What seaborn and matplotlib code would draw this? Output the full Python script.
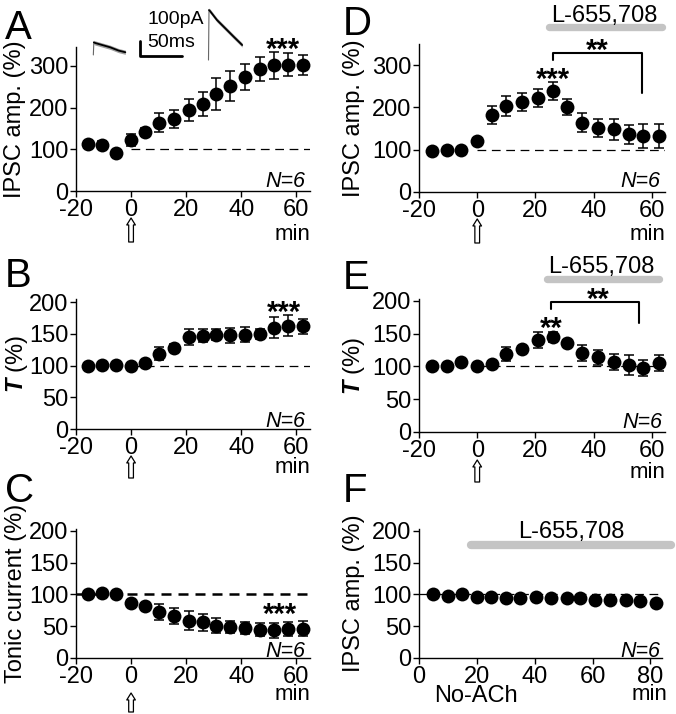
import numpy as np
import pandas as pd
import matplotlib.pyplot as plt
import seaborn as sns
from matplotlib.transforms import ScaledTranslation

# Dados (médias e erros, %)
t_min = [-15.5, -10.5, -5.5, 0, 5, 10, 15.5, 21, 26, 31, 36, 41.5, 47, 52, 57, 62.5]
t_noach = [5, 10, 15, 20, 25, 30, 35, 40.5, 45.5, 51, 55.5, 61, 66, 71.5, 76.5, 82]

ipsc_a = [112, 111, 90, 122, 141, 164, 172, 194, 208, 232, 252, 274, 292, 301, 303, 301]
err_a = [8, 8, 6, 15, 10, 23, 22, 27, 28, 38, 36, 31, 28, 32, 27, 24]

tau_b = [100, 101.5, 100.5, 100, 104, 119, 128, 145, 147, 149, 147.5, 149, 150, 160, 163, 162]
err_b = [3, 3, 3, 3, 4, 10, 6, 12, 10, 8, 12, 12, 8, 17, 16, 12]

tonic_c = [100, 102.5, 100, 87, 81.5, 72.5, 66, 59, 56, 51, 49, 47, 44.5, 43.5, 45.5, 46]
err_c = [3, 3, 3, 4, 5, 12, 13, 15, 14, 12, 10, 9, 10, 12, 11, 12]

ipsc_d = [97, 100, 100, 121, 182, 203, 212, 223, 239, 201, 164, 152, 148, 136, 132, 132]
err_d = [4, 4, 4, 6, 21, 24, 21, 21, 21, 19, 23, 21, 24, 22, 28, 29]

tau_e = [100, 101, 107, 100, 104.5, 119, 126, 140, 145, 136, 121, 114, 107, 102, 98, 105]
err_e = [3, 3, 3, 3, 4, 10, 6, 12, 8, 5, 12, 11, 12, 15, 12, 12]

ipsc_f = [100, 98, 100, 96, 96, 95, 95, 96, 94, 94.5, 94.5, 91, 91, 91, 90, 87]
err_f = [2, 2, 2, 2, 2, 2, 2, 2, 2, 2, 2, 2, 2, 2, 2, 2]

# traços de IPSC do inset (ms, pA)
tr_ctrl_t = [0, 0.6, 2, 10, 20, 30, 38]
tr_ctrl_i = [0, 84, 80, 67, 51, 29, 18]
tr_ach_t = [0, 0.6, 2, 10, 20, 30, 40]
tr_ach_i = [0, 333, 325, 267, 211, 155, 100]

drug = "L-655,708"

sns.set_style("ticks", {"axes.edgecolor": "black", "xtick.color": "black",
                        "ytick.color": "black", "text.color": "black",
                        "axes.labelcolor": "black"})
plt.rcParams["font.family"] = ["Liberation Sans", "DejaVu Sans"]
plt.rcParams["axes.unicode_minus"] = False
plt.rcParams["mathtext.fontset"] = "custom"
plt.rcParams["mathtext.rm"] = "Liberation Sans"
plt.rcParams["mathtext.it"] = "Liberation Sans:italic"
plt.rcParams["mathtext.bf"] = "Liberation Sans:bold"
plt.rcParams["mathtext.bfit"] = "Liberation Sans:italic:bold"

W, H = 676, 714
fig = plt.figure(figsize=(W / 100, H / 100), dpi=100)


def box(l, r, t, b):
    return [l / W, 1 - b / H, (r - l) / W, (b - t) / H]


def panel(rect, xlim, ylim, xticks, yticks):
    ax = fig.add_axes(box(*rect))
    ax.set_xlim(xlim)
    ax.set_ylim(ylim)
    ax.set_xticks(xticks)
    ax.set_yticks(yticks)
    sns.despine(ax=ax)
    ax.tick_params(direction="out", length=4, width=1, labelsize=17, pad=1.5)
    for s in ["left", "bottom"]:
        ax.spines[s].set_linewidth(1)
    return ax


def series(ax, t, y, err):
    ax.errorbar(t, y, yerr=err, fmt="none", ecolor="black", elinewidth=1.1,
                capsize=3.5, capthick=1.1, zorder=2, clip_on=False)
    sns.scatterplot(x=t, y=y, ax=ax, color="black", s=100, linewidth=0,
                    zorder=3, clip_on=False, legend=False)


def ylabel(ax, text, px_x):
    pos = ax.get_position()
    ax.set_ylabel(text, fontsize=17)
    ax.yaxis.label.set_va("center")
    ax.yaxis.set_label_coords((px_x / W - pos.x0) / pos.width, 0.5)


def n6(ax, dx, dy):
    ax.annotate("N=6", xy=(1, 0), xycoords="axes fraction", xytext=(-dx, dy),
                textcoords="offset pixels", ha="right", va="baseline",
                fontsize=15.5, style="italic")


def up_arrow(ax, top, bottom):
    th = ax.get_xaxis_transform() + ScaledTranslation(0, -top / 100, fig.dpi_scale_trans)
    tt = ax.get_xaxis_transform() + ScaledTranslation(0, -bottom / 100, fig.dpi_scale_trans)
    ax.annotate("", xy=(0, 0), xycoords=th, xytext=(0, 0), textcoords=tt,
                annotation_clip=False,
                arrowprops=dict(arrowstyle="simple,head_length=0.5,head_width=0.62,tail_width=0.34",
                                fc="white", ec="black", lw=0.9, shrinkA=0, shrinkB=0,
                                mutation_scale=10))


def stars(ax, x, y, s):
    ax.text(x, y, s, ha="center", va="baseline", fontsize=21, fontweight="bold",
            clip_on=False)


def baseline(ax, x0, x1, lw=0.9, dash=(7, 4.5)):
    ax.hlines(100, x0, x1, colors="black", lw=lw, linestyles=[(0, dash)], zorder=1)


def drug_bar(ax, x0, x1, y, xt, yt, lw=5.3):
    ax.plot([x0, x1], [y, y], color="#c4c4c4", lw=lw, solid_capstyle="round",
            clip_on=False)
    ax.text(xt, yt, drug, ha="center", va="baseline", fontsize=17, clip_on=False)


def bracket(ax, x0, x1, ytop, yleft, yright):
    ax.plot([x0, x0, x1, x1], [yleft, ytop, ytop, yright], color="black", lw=1.5,
            clip_on=False)


xt = [-20, 0, 20, 40, 60]

# A
axA = panel((76, 310, 47, 191), (-20, 65), (0, 345), xt, [0, 100, 200, 300])
baseline(axA, 0, 65)
series(axA, t_min, ipsc_a, err_a)
stars(axA, 55, 318, "***")
ylabel(axA, "IPSC amp. (%)", 15)
n6(axA, 5, 4)
up_arrow(axA, 27, 51)

# B
axB = panel((76, 310, 299, 429), (-20, 65), (0, 205), xt, [0, 50, 100, 150, 200])
baseline(axB, 0, 65)
series(axB, t_min, tau_b, err_b)
stars(axB, 55.5, 170, "***")
ylabel(axB, r"$\mathbfit{T}$ (%)", 17)
n6(axB, 5, 2)
up_arrow(axB, 27, 49)

# C
axC = panel((76, 310, 529, 658), (-20, 65), (0, 203), xt, [0, 50, 100, 150, 200])
baseline(axC, -20, 65, lw=1.8, dash=(4, 2.8))
series(axC, t_min, tonic_c, err_c)
stars(axC, 54, 55, "***")
ylabel(axC, "Tonic current (%)", 16)
n6(axC, 5, 1)
up_arrow(axC, 35, 54)

# D
axD = panel((419, 665, 44, 192), (-20, 64.5), (0, 350), xt, [0, 100, 200, 300])
baseline(axD, 0, 64.5)
series(axD, t_min, ipsc_d, err_d)
stars(axD, 26, 247, "***")
bracket(axD, 26, 56.5, 329, 313, 234)
stars(axD, 41.25, 315, "**")
drug_bar(axD, 24.5, 63.5, 391, 43.8, 403)
ylabel(axD, "IPSC amp. (%)", 354)
n6(axD, 5, 5)
up_arrow(axD, 27, 51)

# E
axE = panel((419, 665, 299, 432), (-20, 64.5), (0, 203), xt, [0, 50, 100, 150, 200])
baseline(axE, 0, 64.5)
series(axE, t_min, tau_e, err_e)
stars(axE, 25.5, 145, "**")
bracket(axE, 25.5, 55.5, 199, 188, 166)
stars(axE, 41.5, 189, "**")
drug_bar(axE, 23.8, 62.5, 233, 42.5, 242)
ylabel(axE, r"$\mathbfit{T}$ (%)", 354)
n6(axE, 3, 4)
up_arrow(axE, 28, 50)

# F
axF = panel((419, 662, 529, 658), (0, 84), (0, 203), [0, 20, 40, 60, 80], [0, 50, 100, 150, 200])
baseline(axF, 0, 84)
series(axF, t_noach, ipsc_f, err_f)
drug_bar(axF, 18, 87, 178, 52.5, 189, lw=6)
ylabel(axF, "IPSC amp. (%)", 354)
n6(axF, 2, 1)

# "min" e rótulos extras
for px, py in [(310, 240), (310, 473), (310, 700), (665, 240), (665, 478), (667, 700)]:
    fig.text(px / W, 1 - py / H, "min", ha="right", va="baseline", fontsize=16)
fig.text(476 / W, 1 - 702 / H, "No-ACh", ha="center", va="baseline", fontsize=17)

# letras dos painéis
for letter, px, py in [("A", 5, 9), ("B", 5, 257), ("C", 5, 472),
                       ("D", 343, 5), ("E", 343, 259), ("F", 343, 472)]:
    fig.text(px / W, 1 - py / H, letter, ha="left", va="top", fontsize=29)

# inset com os traços de IPSC (ms, pA)
axT = fig.add_axes(box(85, 250, 0, 65))
axT.set_xlim(0, 196)
axT.set_ylim(0, 433)
axT.axis("off")
for t, i, t0, base in [(tr_ctrl_t, tr_ctrl_i, 9.9, 67), (tr_ach_t, tr_ach_i, 146.7, 33)]:
    tt = np.array(t) + t0
    ii = np.array(i) + base
    axT.fill_between(tt[1:], ii[1:] - 14, ii[1:] + 14, color="0.62", lw=0)
    axT.plot(tt[:2], ii[:2], color="0.4", lw=0.8)
    axT.plot(tt[1:], ii[1:], color="black", lw=1.3)
# barra de escala: 50 ms x 100 pA
axT.plot([65.5, 65.5, 115.5], [160, 60, 60], color="black", lw=2)
axT.text(74, 300, "100pA", fontsize=14, va="center", ha="left")
axT.text(74, 150, "50ms", fontsize=14, va="center", ha="left")

plt.savefig("out.png", dpi=100)
